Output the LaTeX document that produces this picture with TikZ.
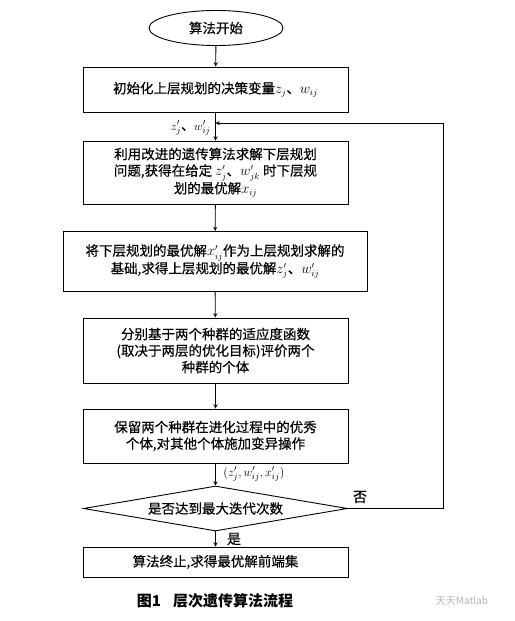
\documentclass[tikz,border=0pt]{standalone}
\usepackage{amsmath}
\usepackage{fontspec}
\usepackage{tikz}
\usetikzlibrary{shapes.geometric}
\setmainfont{Liberation Serif}
\newfontfamily\cjk[FakeBold=0.35]{Noto Sans CJK SC}
\newfontfamily\cjkplain{Noto Sans CJK SC}

\begin{document}
\begin{tikzpicture}[x=1pt,y=-1pt,>=stealth,line width=0.9pt]
		\tikzstyle{stepbox}=[rectangle,draw=black,minimum width=265pt,inner sep=0,align=center,font=\cjk\fontsize{13.5}{16.5}\selectfont]
		\tikzstyle{tag}=[inner sep=1pt,font=\fontsize{13}{15}\selectfont]
		\useasboundingbox (0,0) rectangle (514,621);

		\node[ellipse,draw=black,minimum width=134pt,minimum height=35pt,inner sep=0,font=\cjk\fontsize{13.5}{16}\selectfont] (start) at (216,28) {算法开始};
		\node[stepbox,minimum height=45pt] (init) at (215.5,89.5) {初始化上层规划的决策变量$z_j$、$w_{ij}$};
		\node[stepbox,minimum height=63pt] (solve) at (215.5,172.5) {利用改进的遗传算法求解下层规划\\问题,获得在给定 $z_j'$、$w_{jk}'$ 时下层规\\划的最优解$x_{ij}$};
		\node[stepbox,minimum width=304pt,minimum height=60pt] (upper) at (215,261.5) {将下层规划的最优解$x_{ij}'$作为上层规划求解的\\基础,求得上层规划的最优解$z_j'$、$w_{ij}'$};
		\node[stepbox,minimum height=65pt] (eval) at (215.5,350.5) {分别基于两个种群的适应度函数\\(取决于两层的优化目标)评价两个\\种群的个体};
		\node[stepbox,minimum height=54pt] (keep) at (215.5,436) {保留两个种群在进化过程中的优秀\\个体,对其他个体施加变异操作};
		\node[diamond,draw=black,aspect=5.8,minimum width=264pt,minimum height=45pt,inner sep=0,font=\cjk\fontsize{13.5}{16}\selectfont] (check) at (215.5,508.5) {是否达到最大迭代次数};
		\node[stepbox,minimum height=30pt] (stop) at (215.5,562) {算法终止,求得最优解前端集};

		\draw[->] (start) -- (init);
		\draw[->] (init) -- (solve);
		\draw[->] (solve) -- (upper);
		\draw[->] (upper) -- (eval);
		\draw[->] (eval) -- (keep);
		\draw[->] (keep) -- (check);
		\draw[->] (check) -- (stop);

		\coordinate (loopR) at (443,508.5);
		\coordinate (loopT) at (443,123);
		\coordinate (join) at (215.5,123);
		\draw[->] (check.east) -- (loopR) -- (loopT) -- (join);

		\node[tag,anchor=east] (zw) at (212,128) {$z_j'$\cjk 、$w_{ij}'$};
		\node[tag,anchor=west] (zwx) at (222,474) {$(z_j',w_{ij}',x_{ij}')$};
		\node[font=\cjk\fontsize{14}{16}\selectfont] (no) at (360,497) {否};
		\node[font=\cjk\fontsize{14}{16}\selectfont] (yes) at (234,539) {是};

		\node[font=\cjkplain\bfseries\fontsize{15}{18}\selectfont] (cap) at (215,601) {图1\hspace{12pt}层次遗传算法流程};
		\node[font=\cjkplain\fontsize{10}{12}\selectfont,text=black!30] (mark) at (462,601) {天天Matlab};
	\end{tikzpicture}
\end{document}
